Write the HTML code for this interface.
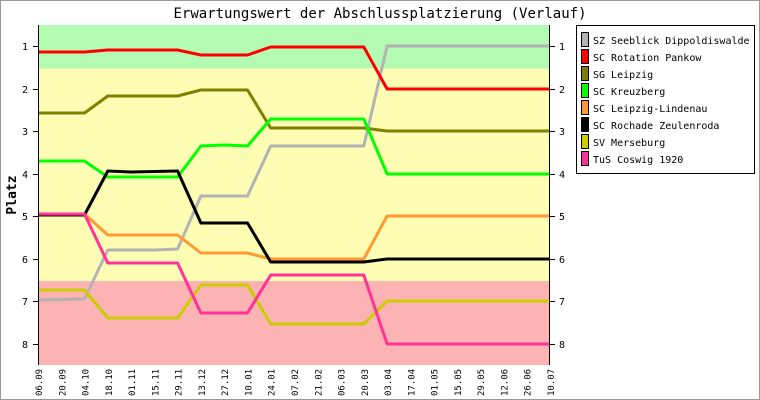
<!DOCTYPE html>
<html><head><meta charset="utf-8"><style>
html,body{margin:0;padding:0;background:#fff}
svg{display:block}
text{font-family:"DejaVu Sans Mono","Liberation Mono",monospace;fill:#000}
</style></head><body>
<svg width="760" height="400" viewBox="0 0 760 400" xmlns="http://www.w3.org/2000/svg">
<rect x="0.5" y="0.5" width="759" height="399" fill="#fff" stroke="#999"/>
<text x="380" y="18" font-size="14" text-anchor="middle">Erwartungswert der Abschlussplatzierung (Verlauf)</text>
<rect x="38" y="25" width="512" height="43.5" fill="#b3fbb3"/>
<rect x="38" y="68.5" width="512" height="212.5" fill="#fdfdb3"/>
<rect x="38" y="281" width="512" height="84" fill="#fdb3b3"/>
<g fill="none" stroke-width="3" stroke-linejoin="round">
<polyline stroke="#b3b3b3" points="38,300 84.5,299 107.8,250 154.4,250 177.6,249 200.9,196 247.5,196 270.7,146 363.8,146 387.1,46 550,46"/>
<polyline stroke="#ff0000" points="38,52 84.5,52 107.8,50 177.6,50 200.9,55 247.5,55 270.7,47 363.8,47 387.1,89 550,89"/>
<polyline stroke="#808000" points="38,113 84.5,113 107.8,96 177.6,96 200.9,90 247.5,90 270.7,128 363.8,128 387.1,131 550,131"/>
<polyline stroke="#00ff00" points="38,161 84.5,161 107.8,177 177.6,177 200.9,146 224.2,145 247.5,146 270.7,119 363.8,119 387.1,174 550,174"/>
<polyline stroke="#ff9933" points="38,214 84.5,214 107.8,235 177.6,235 200.9,253 247.5,253 270.7,259 363.8,259 387.1,216 550,216"/>
<polyline stroke="#000000" points="38,215 84.5,215 107.8,171 131.1,172 177.6,171 200.9,223 247.5,223 270.7,262 363.8,262 387.1,259 550,259"/>
<polyline stroke="#cccc00" points="38,290 84.5,290 107.8,318 177.6,318 200.9,285 247.5,285 270.7,324 363.8,324 387.1,301 550,301"/>
<polyline stroke="#ff3399" points="38,214 84.5,214 107.8,263 177.6,263 200.9,313 247.5,313 270.7,275 363.8,275 387.1,344 550,344"/>
</g>
<g stroke="#000" stroke-width="1">
<line x1="38.5" y1="25" x2="38.5" y2="365"/>
<line x1="549.5" y1="25" x2="549.5" y2="365"/>
<line x1="33" y1="46.5" x2="38" y2="46.5"/><line x1="550" y1="46.5" x2="555" y2="46.5"/>
<line x1="33" y1="89.5" x2="38" y2="89.5"/><line x1="550" y1="89.5" x2="555" y2="89.5"/>
<line x1="33" y1="131.5" x2="38" y2="131.5"/><line x1="550" y1="131.5" x2="555" y2="131.5"/>
<line x1="33" y1="174.5" x2="38" y2="174.5"/><line x1="550" y1="174.5" x2="555" y2="174.5"/>
<line x1="33" y1="216.5" x2="38" y2="216.5"/><line x1="550" y1="216.5" x2="555" y2="216.5"/>
<line x1="33" y1="259.5" x2="38" y2="259.5"/><line x1="550" y1="259.5" x2="555" y2="259.5"/>
<line x1="33" y1="301.5" x2="38" y2="301.5"/><line x1="550" y1="301.5" x2="555" y2="301.5"/>
<line x1="33" y1="344.5" x2="38" y2="344.5"/><line x1="550" y1="344.5" x2="555" y2="344.5"/>
</g>
<g font-size="10">
<text x="25" y="50" text-anchor="middle">1</text><text x="562" y="50" text-anchor="middle">1</text>
<text x="25" y="93" text-anchor="middle">2</text><text x="562" y="93" text-anchor="middle">2</text>
<text x="25" y="135" text-anchor="middle">3</text><text x="562" y="135" text-anchor="middle">3</text>
<text x="25" y="178" text-anchor="middle">4</text><text x="562" y="178" text-anchor="middle">4</text>
<text x="25" y="220" text-anchor="middle">5</text><text x="562" y="220" text-anchor="middle">5</text>
<text x="25" y="263" text-anchor="middle">6</text><text x="562" y="263" text-anchor="middle">6</text>
<text x="25" y="305" text-anchor="middle">7</text><text x="562" y="305" text-anchor="middle">7</text>
<text x="25" y="348" text-anchor="middle">8</text><text x="562" y="348" text-anchor="middle">8</text>
</g>
<text transform="translate(16,195) rotate(-90)" font-size="13" font-weight="bold" text-anchor="middle">Platz</text>
<g font-size="9">
<text transform="translate(42,396) rotate(-90)">06.09</text>
<text transform="translate(65.3,396) rotate(-90)">20.09</text>
<text transform="translate(88.5,396) rotate(-90)">04.10</text>
<text transform="translate(111.8,396) rotate(-90)">18.10</text>
<text transform="translate(135.1,396) rotate(-90)">01.11</text>
<text transform="translate(158.4,396) rotate(-90)">15.11</text>
<text transform="translate(181.6,396) rotate(-90)">29.11</text>
<text transform="translate(204.9,396) rotate(-90)">13.12</text>
<text transform="translate(228.2,396) rotate(-90)">27.12</text>
<text transform="translate(251.5,396) rotate(-90)">10.01</text>
<text transform="translate(274.7,396) rotate(-90)">24.01</text>
<text transform="translate(298,396) rotate(-90)">07.02</text>
<text transform="translate(321.3,396) rotate(-90)">21.02</text>
<text transform="translate(344.5,396) rotate(-90)">06.03</text>
<text transform="translate(367.8,396) rotate(-90)">20.03</text>
<text transform="translate(391.1,396) rotate(-90)">03.04</text>
<text transform="translate(414.4,396) rotate(-90)">17.04</text>
<text transform="translate(437.6,396) rotate(-90)">01.05</text>
<text transform="translate(460.9,396) rotate(-90)">15.05</text>
<text transform="translate(484.2,396) rotate(-90)">29.05</text>
<text transform="translate(507.5,396) rotate(-90)">12.06</text>
<text transform="translate(530.7,396) rotate(-90)">26.06</text>
<text transform="translate(554,396) rotate(-90)">10.07</text>
</g>
<rect x="576.5" y="25.5" width="178" height="148" fill="#fff" stroke="#000"/>
<g stroke="#000" stroke-width="1">
<rect x="581.5" y="32.5" width="7" height="14" fill="#b3b3b3"/>
<rect x="581.5" y="49.5" width="7" height="14" fill="#ff0000"/>
<rect x="581.5" y="66.5" width="7" height="14" fill="#808000"/>
<rect x="581.5" y="83.5" width="7" height="14" fill="#00ff00"/>
<rect x="581.5" y="100.5" width="7" height="14" fill="#ff9933"/>
<rect x="581.5" y="117.5" width="7" height="14" fill="#000000"/>
<rect x="581.5" y="134.5" width="7" height="14" fill="#cccc00"/>
<rect x="581.5" y="151.5" width="7" height="14" fill="#ff3399"/>
</g>
<g font-size="10" style="font-family:'Liberation Mono',monospace">
<text x="593" y="44">SZ Seeblick Dippoldiswalde</text>
<text x="593" y="61">SC Rotation Pankow</text>
<text x="593" y="78">SG Leipzig</text>
<text x="593" y="95">SC Kreuzberg</text>
<text x="593" y="112">SC Leipzig-Lindenau</text>
<text x="593" y="129">SC Rochade Zeulenroda</text>
<text x="593" y="146">SV Merseburg</text>
<text x="593" y="163">TuS Coswig 1920</text>
</g>
</svg>
</body></html>
